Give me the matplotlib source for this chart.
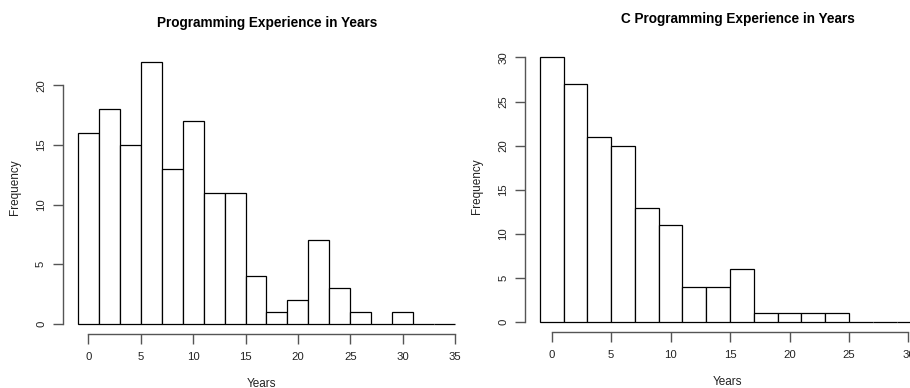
import matplotlib
matplotlib.use("Agg")
import matplotlib.pyplot as plt
import numpy as np

plt.rcParams["font.family"] = ["Liberation Sans", "DejaVu Sans"]

# histogram counts, bins of 2 years starting at -1
prog_edges = list(range(-1, 37, 2))
prog_counts = [16, 18, 15, 22, 13, 17, 11, 11, 4, 1, 2, 7, 3, 1, 0, 1, 0, 0]

c_edges = list(range(-1, 33, 2))
c_counts = [30, 27, 21, 20, 13, 11, 4, 4, 6, 1, 1, 1, 1, 0, 0, 0]

prog_xticks = [0, 5, 10, 15, 20, 25, 30, 35]
prog_yticks = [0, 5, 10, 15, 20]
c_xticks = [0, 5, 10, 15, 20, 25, 30]
c_yticks = [0, 5, 10, 15, 20, 25, 30]

W, H = 910, 388
fig = plt.figure(figsize=(W / 100, H / 100), dpi=100)


def place_axes(left_px, bottom_px, right_px, top_px):
    return fig.add_axes([left_px / W, 1 - bottom_px / H,
                         (right_px - left_px) / W, (bottom_px - top_px) / H])


def r_hist(ax, edges, counts, xticks, yticks, title, title_xy):
    # base-R look: white bars, detached axes that only span the ticks
    widths = np.diff(edges)
    ax.bar(edges[:-1], counts, width=widths, align="edge",
           facecolor="white", edgecolor="black", linewidth=0.9)
    ax.set_facecolor("none")
    for side in ("top", "right"):
        ax.spines[side].set_visible(False)
    for side in ("left", "bottom"):
        ax.spines[side].set_color("#555555")
        ax.spines[side].set_linewidth(1.0)
    ax.spines["bottom"].set_bounds(xticks[0], xticks[-1])
    ax.spines["left"].set_bounds(yticks[0], yticks[-1])
    ax.set_xticks(xticks)
    ax.set_yticks(yticks)
    ax.set_yticklabels([str(v) for v in yticks], rotation=90, va="center")
    ax.tick_params(direction="out", length=7, width=1.0, color="#555555",
                   labelsize=8.2, labelcolor="#222222")
    ax.tick_params(axis="x", pad=6)
    ax.tick_params(axis="y", pad=5)
    ax.set_xlabel("Years", fontsize=8.5, color="#222222", labelpad=11)
    ax.set_ylabel("Frequency", fontsize=8.5, color="#222222", labelpad=11)
    fig.text(title_xy[0] / W, 1 - title_xy[1] / H, title, fontsize=9.8,
             fontweight="bold", ha="center", va="center")
    return ax


# left panel: 0 yr at 88.3 px, 10.48 px/yr; baseline 324 px, 11.93 px/count
ax1 = place_axes(62.7, 334.3, 460.0, 40.0)
ax1.set_xlim((62.7 - 88.3) / 10.48, (460.0 - 88.3) / 10.48)
ax1.set_ylim(-(334.3 - 324.0) / 11.93, (324.0 - 40.0) / 11.93)
r_hist(ax1, prog_edges, prog_counts, prog_xticks, prog_yticks,
       "Programming Experience in Years", (267, 23))

# right panel: 0 yr at 551.7 px, 11.89 px/yr; baseline 322.3 px, 8.83 px/count
ax2 = place_axes(525.0, 332.3, 930.0, 40.0)
ax2.set_xlim((525.0 - 551.7) / 11.89, (930.0 - 551.7) / 11.89)
ax2.set_ylim(-(332.3 - 322.3) / 8.83, (322.3 - 40.0) / 8.83)
r_hist(ax2, c_edges, c_counts, c_xticks, c_yticks,
       "C Programming Experience in Years", (738, 19))

fig.savefig("out.png", dpi=100)
